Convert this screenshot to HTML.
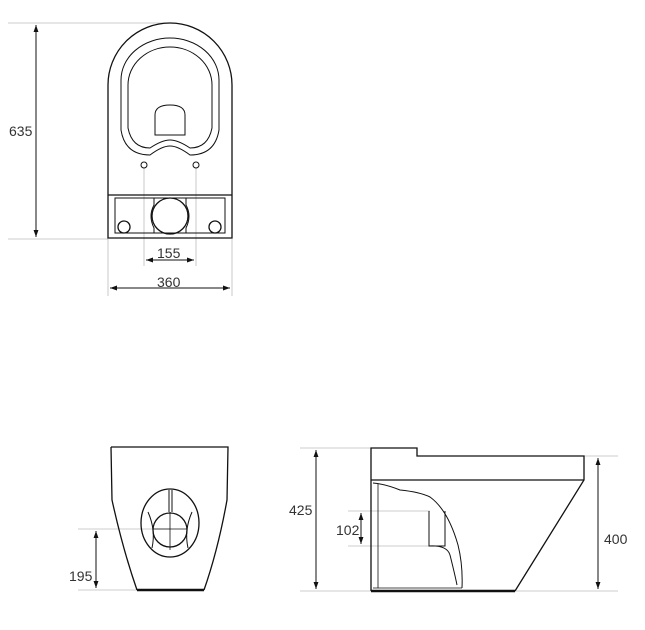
<!DOCTYPE html>
<html><head><meta charset="utf-8"><style>
body{margin:0;background:#fff}
svg{display:block}
text{font-family:"Liberation Sans",sans-serif;font-size:14px;fill:#333}
</style></head><body>
<svg width="645" height="630" viewBox="0 0 645 630" xmlns="http://www.w3.org/2000/svg">
<defs>
<marker id="a" viewBox="0 0 10 10" refX="10" refY="5" markerWidth="7" markerHeight="7" orient="auto-start-reverse"><path d="M0,1.5 L10,5 L0,8.5 z" fill="#111"/></marker>
</defs>
<g stroke="#bbb" stroke-width="0.8" fill="none">
<line x1="8" y1="23" x2="170" y2="23"/>
<line x1="8" y1="239" x2="108" y2="239"/>
<line x1="144" y1="168" x2="144" y2="266"/>
<line x1="196" y1="168" x2="196" y2="266"/>
<line x1="108" y1="239" x2="108" y2="296"/>
<line x1="232" y1="239" x2="232" y2="296"/>
<line x1="78" y1="529" x2="170" y2="529"/>
<line x1="78" y1="590" x2="137" y2="590"/>
<line x1="300" y1="448" x2="371" y2="448"/>
<line x1="300" y1="591" x2="371" y2="591"/>
<line x1="584" y1="456" x2="618" y2="456"/>
<line x1="515" y1="591" x2="618" y2="591"/>
<line x1="348" y1="511" x2="430" y2="511"/>
<line x1="348" y1="546" x2="430" y2="546"/>
</g>
<g stroke="#111" stroke-width="1" fill="none">
<line x1="36" y1="25" x2="36" y2="237" marker-start="url(#a)" marker-end="url(#a)"/>
<line x1="146" y1="260" x2="194" y2="260" marker-start="url(#a)" marker-end="url(#a)"/>
<line x1="110" y1="288" x2="230" y2="288" marker-start="url(#a)" marker-end="url(#a)"/>
<line x1="96" y1="531" x2="96" y2="588" marker-start="url(#a)" marker-end="url(#a)"/>
<line x1="316" y1="450" x2="316" y2="589" marker-start="url(#a)" marker-end="url(#a)"/>
<line x1="598" y1="458" x2="598" y2="589" marker-start="url(#a)" marker-end="url(#a)"/>
<line x1="361" y1="513" x2="361" y2="544" marker-start="url(#a)" marker-end="url(#a)"/>
</g>
<g stroke="#111" stroke-width="1.3" fill="none">
<path d="M108,238 L108,85 A62,62 0 0 1 232,85 L232,238 Z"/>
<path d="M121,130 L121,80 A49,42 0 0 1 219,80 L219,130 Q215,155 190,155 Q178,146 170,146 Q162,146 150,155 Q125,155 121,130 Z" stroke-width="1"/>
<path d="M128,128 L128,85 A42,38 0 0 1 212,85 L212,128 Q208,148 190,148 Q178,140 170,140 Q162,140 150,148 Q132,148 128,128 Z" stroke-width="1"/>
<path d="M155,135 L155,115 Q155,105 170,105 Q185,105 185,115 L185,135 Z" stroke-width="1"/>
<circle cx="144" cy="165" r="3" stroke-width="1"/>
<circle cx="196" cy="165" r="3" stroke-width="1"/>
<line x1="108" y1="195" x2="232" y2="195"/>
<rect x="115" y="198" width="110" height="35" stroke-width="1"/>
<path d="M154,198 L154,205 Q148,216 154,228 L154,233 M186,198 L186,205 Q192,216 186,228 L186,233" stroke-width="1"/>
<circle cx="170" cy="216" r="18"/>
<circle cx="124" cy="227" r="6"/>
<circle cx="215" cy="227" r="6"/>
<path d="M111,447 L228,447 L227,500 Q218,550 204,590 M111,447 L112,500 Q123,550 137,590"/>
<line x1="137" y1="590" x2="204" y2="590" stroke-width="2.5"/>
<ellipse cx="170" cy="523" rx="29" ry="34"/>
<circle cx="170" cy="530" r="17"/>
<path d="M148,512 Q156,530 152,548 M192,512 Q184,530 188,548" stroke-width="1"/>
<line x1="169" y1="490" x2="169" y2="512" stroke-width="1"/>
<line x1="172" y1="490" x2="172" y2="512" stroke-width="1"/>
<line x1="170" y1="512" x2="170" y2="550" stroke-width="0.8"/>
<line x1="153" y1="529" x2="187" y2="529" stroke-width="0.8"/>
<path d="M371,591 L371,448 L417,448 L417,456 L584,456 L584,480 L515,591"/>
<line x1="371" y1="591" x2="515" y2="591" stroke-width="2.5"/>
<line x1="371" y1="480" x2="584" y2="480"/>
<path d="M373,483 Q385,484 400,490 Q420,492 430,497 Q448,510 458,545 Q463,565 462,588" stroke-width="1"/>
<path d="M378,484 L378,588 M373,588 L462,588" stroke-width="0.8"/>
<path d="M429,511 L429,546 L445,546 L445,511 M429,546 Q447,545 450,555 Q455,575 457,585" stroke-width="1"/>
</g>
<text x="9" y="136">635</text>
<text x="157" y="258">155</text>
<text x="157" y="287">360</text>
<text x="69" y="581">195</text>
<text x="289" y="515">425</text>
<text x="336" y="535">102</text>
<text x="604" y="544">400</text>
</svg>
</body></html>
